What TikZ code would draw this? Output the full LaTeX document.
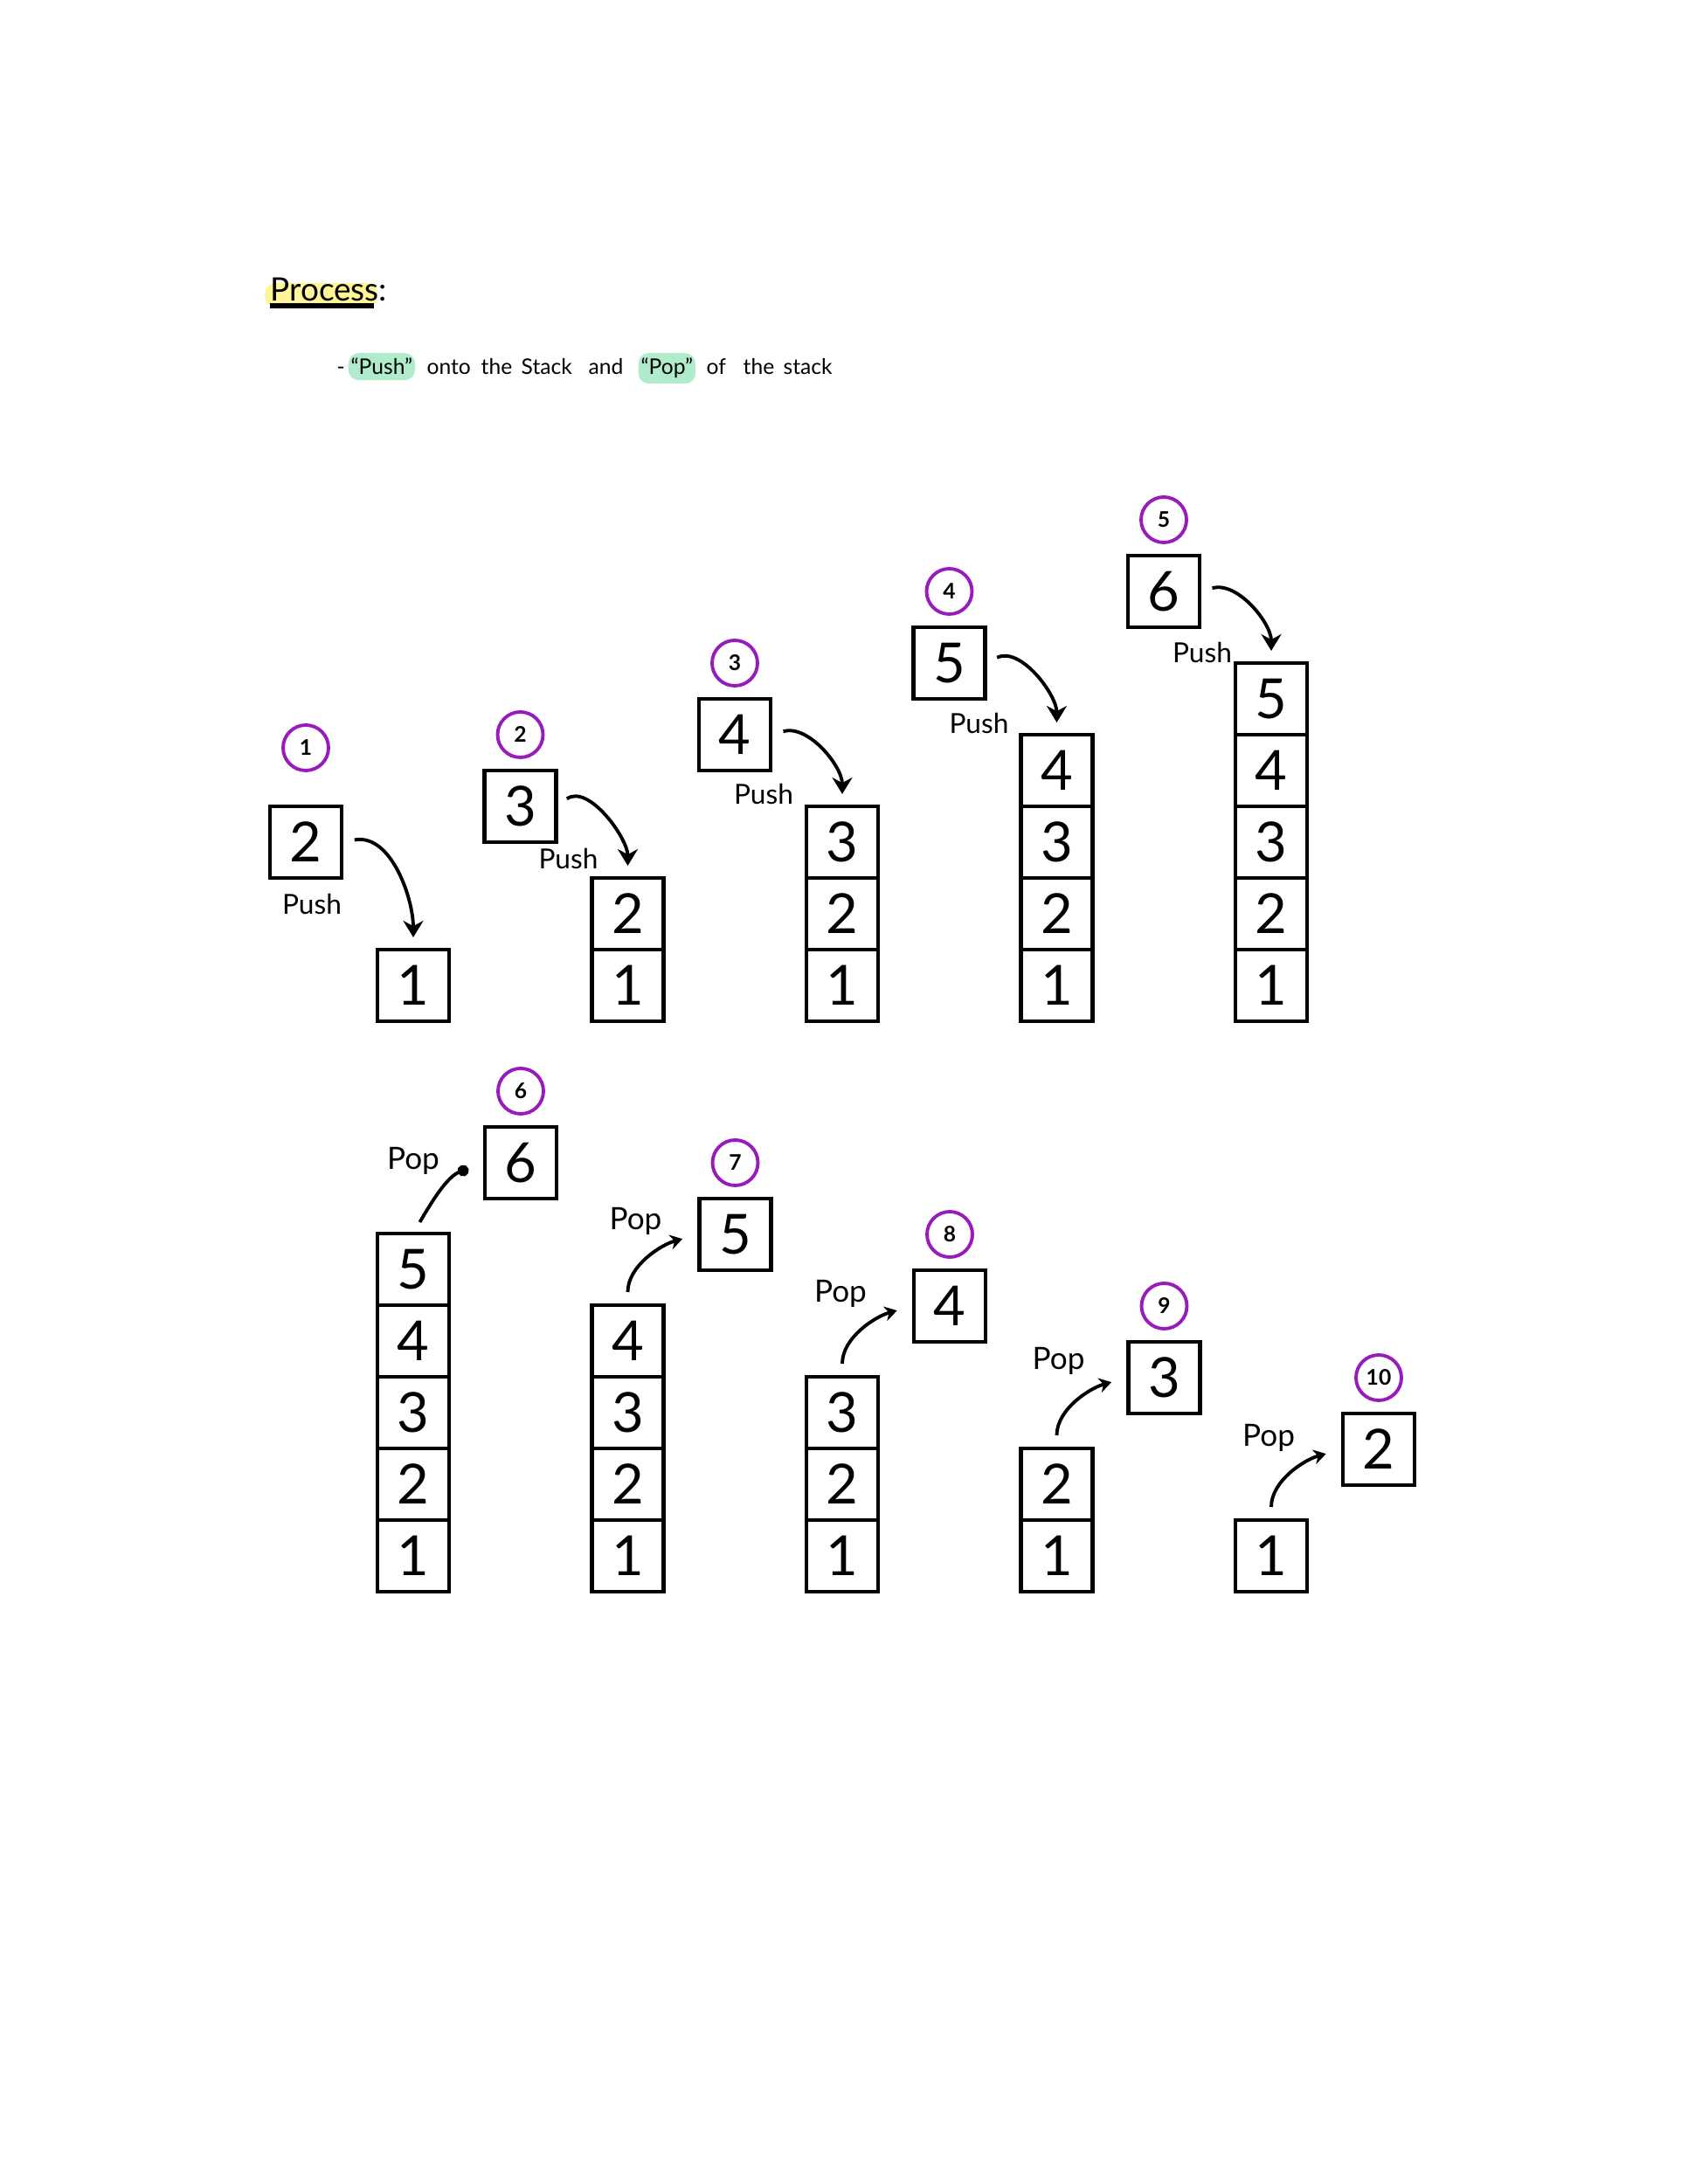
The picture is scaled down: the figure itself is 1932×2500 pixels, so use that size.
\documentclass[tikz,border=0pt]{standalone}
\usepackage{fontspec}
\setmainfont{Lato}
\usetikzlibrary{arrows.meta}
\usepackage{xcolor}
\definecolor{stepviolet}{RGB}{152,28,188}
\definecolor{markyellow}{RGB}{255,245,150}
\definecolor{markgreen}{RGB}{176,236,204}

\begin{document}
\begin{tikzpicture}[x=0.1mm,y=0.1mm]
    \tikzset{
        cell/.style={draw,line width=1.3pt,minimum size=8.2mm,inner sep=0mm,
            outer sep=0mm,font=\fontsize{18}{18}\selectfont},
        counter/.style={circle,draw=stepviolet,line width=1.1pt,minimum size=5.2mm,
            inner sep=0mm,font=\bfseries\fontsize{7}{7}\selectfont},
        word/.style={anchor=base west,inner sep=0mm,font=\fontsize{7}{7}\selectfont},
        marked/.style={word,fill=markgreen,rounded corners=1.2mm,inner xsep=0.3mm,
            inner ysep=0.6mm},
        pushlabel/.style={inner sep=0mm,font=\fontsize{9}{9}\selectfont},
        poplabel/.style={inner sep=0mm,font=\fontsize{10}{10}\selectfont},
        pusharrow/.style={line width=1.1pt,-{Stealth[length=1.9mm,width=2.3mm]},
            shorten <=1.5mm,shorten >=1.4mm},
        poparrow/.style={line width=1.1pt,shorten <=1.5mm,shorten >=2mm},
        poptip/.style={-{Stealth[length=1.4mm,width=1.7mm]}},
        popdot/.style={-{Circle[length=1.3mm]}}
    }
    \useasboundingbox (0,0) rectangle (1932,2500);
    % title
    \fill[markyellow,rounded corners=1.3mm] (303,2148) rectangle (432,2176);
    \node[anchor=base west,inner sep=0mm,font=\fontsize{10.5}{10.5}\selectfont]
        (title) at (309,2155) {Process:};
    \draw[line width=1.5pt] ([yshift=-0.5mm]title.base west)
        -- ([xshift=-1.6mm,yshift=-0.5mm]title.base east);
    \node[word] (dash) at (385,2071) {-};
    \node[marked] (wpush) at (398,2071) {“Push”};
    \foreach \w/\x in {onto/488,the/550,Stack/596,and/673,of/808,the/850,stack/896}
        \node[word] (w\x) at (\x,2071) {\w};
    \node[marked] (wpop) at (730,2071) {“Pop”};
    % push steps
    \foreach \ix in {1,...,5} {
        \foreach \k in {1,...,\ix}
            \node[cell] (u\ix-\k) at ({473+245.5*(\ix-1)},{1372+82*(\k-1)}) {\k};
    }
    \foreach \ix/\dy/\cy/\lx/\ly/\ao in {1/164/108/7/71/10,2/205/82/55/60/35,
            3/287/82/33/68/15,4/369/82/34/69/25,5/451/82/44/70/15} {
        \pgfmathtruncatemacro\val{\ix+1}
        \node[cell] (n\ix) at ({350+245.5*(\ix-1)},{1372+\dy}) {\val};
        \node[counter] (c\ix) at ({350+245.5*(\ix-1)},{1372+\dy+\cy}) {\ix};
        \node[pushlabel] (l\ix) at ({350+245.5*(\ix-1)+\lx},{1372+\dy-\ly}) {Push};
        \draw[pusharrow] (n\ix.east) to[out=\ao,in=90] (u\ix-\ix.north);
    }
    % pop steps
    \foreach \s/\lx/\ly/\ao/\ai/\tip in {1/0/2/60/200/popdot,2/9/15/90/195/poptip,
            3/-2/14/90/195/poptip,4/2/19/90/195/poptip,5/-3/13/90/195/poptip} {
        \pgfmathtruncatemacro\hgt{6-\s}
        \pgfmathtruncatemacro\val{7-\s}
        \pgfmathtruncatemacro\nr{\s+5}
        \foreach \k in {1,...,\hgt}
            \node[cell] (o\s-\k) at ({473+245.5*(\s-1)},{719+82*(\k-1)}) {\k};
        \node[cell] (m\s) at ({596+245.5*(\s-1)},{719+82*(\hgt-1)+122}) {\val};
        \node[counter] (c\nr) at ({596+245.5*(\s-1)},{719+82*(\hgt-1)+204}) {\nr};
        \node[poplabel] (l\nr) at ({473+245.5*(\s-1)+\lx},{719+82*(\hgt-1)+122+\ly}) {Pop};
        \draw[poparrow,\tip] (o\s-\hgt.north) to[out=\ao,in=\ai] (m\s.west);
    }
\end{tikzpicture}
\end{document}
